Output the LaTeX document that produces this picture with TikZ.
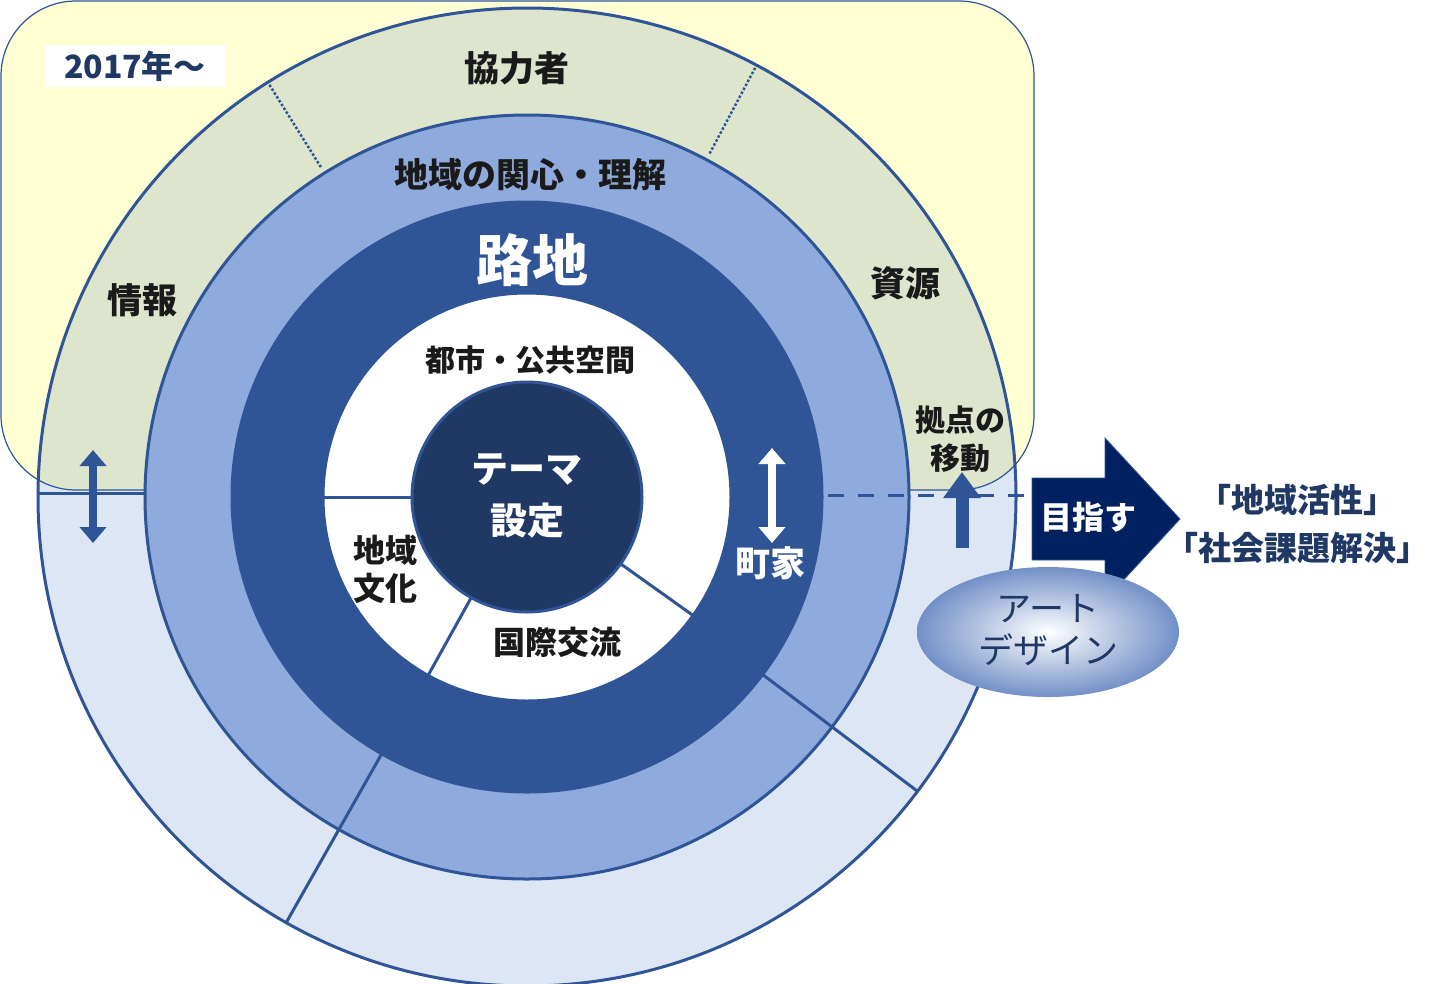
\documentclass[tikz,border=0pt]{standalone}
\usepackage{fontspec}
\newfontfamily\jp{Noto Sans CJK JP}
\newcommand\jpb{\jp\bfseries}
\usetikzlibrary{shapes.geometric,arrows.meta,calc}
\definecolor{ringA}{HTML}{DCE6F4}
\definecolor{ringB}{HTML}{8FAADC}
\definecolor{ringC}{HTML}{2F5597}
\definecolor{core}{HTML}{203864}
\definecolor{bord}{HTML}{2F5597}
\definecolor{navy}{HTML}{00205F}
\definecolor{ylw}{HTML}{FFFFD4}
\definecolor{grn}{HTML}{DEE5CD}
\definecolor{txt}{HTML}{1A1A1A}
\definecolor{dtxt}{HTML}{1F3864}
\begin{document}
\begin{tikzpicture}[x=1pt,y=-1pt,
  lbl/.style={font=\jpb\fontsize{33}{38}\selectfont,text=txt,align=center,inner sep=0pt},
  wlbl/.style={lbl,text=white},
  ring/.style={draw=bord,line width=3pt},
  div/.style={draw=bord,line width=3pt},
  dbl/.style={{Triangle[length=16pt,width=26pt]}-{Triangle[length=16pt,width=26pt]},line width=8pt}]
\useasboundingbox (0,0) rectangle (1453,983);
\coordinate (c) at (527,497);
% outer ring and yellow area
\fill[ylw,rounded corners=75pt] (1,1) rectangle (1034,490);
\fill[ringA] (c) circle[radius=489];
\begin{scope}
\clip[rounded corners=75pt] (1,1) rectangle (1034,490);
\fill[grn] (c) circle[radius=489];
\end{scope}
\draw[draw=bord,line width=1.2pt,rounded corners=75pt] (1,1) rectangle (1034,490);
\draw[ring] (c) circle[radius=489];
\draw[div] (38,493) -- (232,493);
\draw[bord,line width=2.5pt,dotted] ($(c)+(-122:389)$) -- ($(c)+(-122:489)$);
\draw[bord,line width=2.5pt,dotted] ($(c)+(-62:389)$) -- ($(c)+(-62:489)$);
% second ring
\filldraw[fill=ringB,ring] (c) circle[radius=382];
% third ring
\filldraw[fill=ringC,ring] (c) circle[radius=295];
\draw[div] ($(c)+(119.5:295)$) -- ($(c)+(119.5:489)$);
\draw[div] ($(c)+(37:295)$) -- ($(c)+(37:489)$);
% white
\filldraw[fill=white,ring] (c) circle[radius=204];
\draw[div] ($(c)+(180:204)$) -- ($(c)+(180:115)$);
\draw[div] ($(c)+(35.5:204)$) -- ($(c)+(35.5:115)$);
\draw[div] ($(c)+(119:204)$) -- ($(c)+(119:115)$);
% core
\filldraw[fill=core,ring] (c) circle[radius=115];
% dashed line
\draw[bord,line width=3pt,dash pattern=on 16pt off 14pt] (738,495) -- (1030,495);
% texts
\node[draw=none,fill=white,minimum width=180pt,minimum height=42pt,inner sep=0pt,font=\jpb\fontsize{32}{36}\selectfont,text=dtxt] (yr) at (135,66) {2017年～};
\node[lbl,font=\jpb\fontsize{35}{38}\selectfont] (kyo) at (517,68) {協力者};
\node[lbl,font=\jpb\fontsize{35}{38}\selectfont] (joho) at (142,300) {情報};
\node[lbl,font=\jpb\fontsize{35}{38}\selectfont] (shigen) at (905,283) {資源};
\node[lbl,font=\jpb\fontsize{30}{38}\selectfont] (kyoten) at (960,439) {拠点の\\移動};
\node[lbl,font=\jpb\fontsize{34}{38}\selectfont] (kanshin) at (530,175) {地域の関心・理解};
\node[wlbl,font=\jpb\fontsize{56}{60}\selectfont] (roji) at (532,260) {路地};
\node[lbl,font=\jpb\fontsize{30}{34}\selectfont] (toshi) at (530,360) {都市・公共空間};
\node[wlbl,font=\jpb\fontsize{37}{52}\selectfont] (theme) at (527,496) {テーマ\\設定};
\node[lbl,font=\jpb\fontsize{32}{38}\selectfont] (bunka) at (385,569) {地域\\文化};
\node[lbl,font=\jpb\fontsize{32}{36}\selectfont] (kokusai) at (557,642) {国際交流};
\node[wlbl,font=\jpb\fontsize{35}{38}\selectfont] (machiya) at (770,563) {町家};
% arrows
\coordinate (la1) at (93,450); \coordinate (la2) at (93,543);
\draw[dbl,bord] (la1) -- (la2);
\coordinate (ra1) at (772,448); \coordinate (ra2) at (772,543);
\draw[dbl,white] (ra1) -- (ra2);
\coordinate (ua1) at (962,548); \coordinate (ua2) at (962,472);
\draw[bord,line width=13pt,-{Triangle[length=26pt,width=36pt]}] (ua1) -- (ua2);
% big arrow
\filldraw[fill=navy,draw=bord,line width=0.8pt] (1032,478) -- (1105,478) -- (1105,438) -- (1180,519) -- (1105,600) -- (1105,560) -- (1032,560) -- cycle;
\node[wlbl,font=\jpb\fontsize{32}{36}\selectfont] (mezasu) at (1088,517) {目指す};
\node[lbl,text=dtxt,font=\jpb\fontsize{33}{48}\selectfont] (goal) at (1297,524) {「地域活性」\\「社会課題解決」};
% ellipse
\node[ellipse,minimum width=262pt,minimum height=130pt,inner sep=0pt,draw=none,
  inner color=white,outer color=ringB!70!ringC] (art) at (1048,632) {};
\node[lbl,font=\jp\fontsize{35}{42}\selectfont,text=dtxt] (arttx) at (1048,630) {アート\\デザイン};
\end{tikzpicture}
\end{document}
